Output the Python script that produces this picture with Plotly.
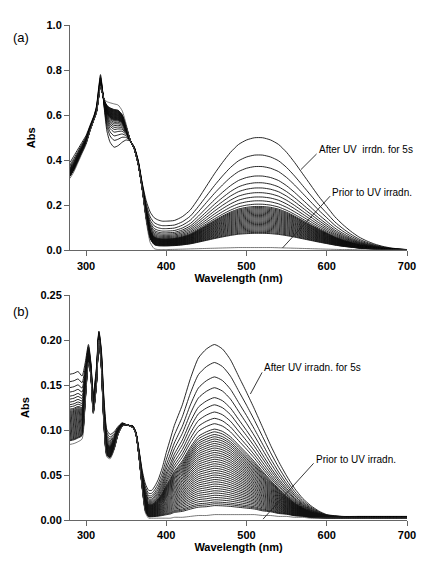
import plotly.graph_objects as go

# ---------------- panel (a) ----------------
wl_a = [280, 285, 290, 295, 300, 305, 310, 313, 316, 318, 320, 323, 326, 330, 335, 340, 345, 350,
        355, 360, 365, 370, 375, 380, 385, 390, 395, 400, 410, 420, 430, 440, 450, 460, 470, 480,
        490, 500, 510, 520, 530, 540, 550, 560, 570, 580, 590, 600, 610, 620, 630, 640, 650, 660,
        670, 680, 690, 700]
final_a = [0.39, 0.42, 0.45, 0.48, 0.51, 0.555, 0.60, 0.64, 0.73, 0.78, 0.73, 0.62, 0.53, 0.48,
           0.458, 0.465, 0.48, 0.49, 0.485, 0.46, 0.40, 0.30, 0.22, 0.17, 0.145, 0.135, 0.13,
           0.13, 0.133, 0.15, 0.18, 0.23, 0.285, 0.34, 0.39, 0.435, 0.47, 0.49, 0.50, 0.50, 0.49,
           0.47, 0.435, 0.39, 0.34, 0.29, 0.24, 0.195, 0.15, 0.115, 0.085, 0.06, 0.042, 0.028,
           0.018, 0.011, 0.007, 0.004]
prior_a = [0.32, 0.35, 0.39, 0.43, 0.47, 0.53, 0.58, 0.61, 0.68, 0.73, 0.70, 0.67, 0.66, 0.655,
           0.65, 0.645, 0.62, 0.56, 0.49, 0.45, 0.38, 0.27, 0.13, 0.035, 0.008, 0.004, 0.004,
           0.004, 0.005, 0.006, 0.007, 0.008, 0.009, 0.010, 0.011, 0.012, 0.013, 0.013, 0.013,
           0.013, 0.013, 0.012, 0.011, 0.010, 0.009, 0.008, 0.007, 0.006, 0.005, 0.004, 0.004,
           0.003, 0.003, 0.003, 0.002, 0.002, 0.002, 0.002]
peak_wl_a = 520
levels_a = [0.50, 0.423, 0.372, 0.33, 0.30, 0.277, 0.256, 0.237, 0.22, 0.205, 0.195, 0.19,
            0.185, 0.18, 0.175, 0.17, 0.165, 0.16, 0.155, 0.15, 0.145, 0.14, 0.135, 0.13, 0.125,
            0.12, 0.115, 0.11, 0.105, 0.10, 0.095, 0.09, 0.085, 0.08, 0.076]

# ---------------- panel (b) ----------------
wl_b = [280, 285, 290, 295, 299, 303, 306, 309, 313, 316, 319, 322, 326, 330, 335, 340, 345, 350,
        355, 358, 362, 366, 370, 374, 378, 382, 386, 390, 395, 400, 405, 410, 420, 430, 440, 450,
        460, 470, 480, 490, 500, 510, 520, 530, 540, 550, 560, 570, 580, 590, 600, 620, 640, 660,
        680, 700]
final_b = [0.162, 0.163, 0.165, 0.16, 0.175, 0.195, 0.175, 0.14, 0.17, 0.21, 0.19, 0.14, 0.10,
           0.095, 0.098, 0.104, 0.108, 0.106, 0.105, 0.105, 0.098, 0.078, 0.055, 0.04, 0.033,
           0.033, 0.038, 0.045, 0.058, 0.075, 0.09, 0.105, 0.128, 0.157, 0.18, 0.19, 0.195,
           0.19, 0.178, 0.16, 0.142, 0.123, 0.103, 0.083, 0.065, 0.049, 0.035, 0.024, 0.016,
           0.01, 0.006, 0.004, 0.004, 0.004, 0.004, 0.004]
prior_b = [0.084, 0.085, 0.087, 0.09, 0.13, 0.175, 0.16, 0.118, 0.15, 0.20, 0.17, 0.11, 0.07,
           0.068, 0.078, 0.095, 0.104, 0.106, 0.104, 0.103, 0.096, 0.07, 0.035, 0.008, 0.002,
           0.002, 0.002, 0.002, 0.002, 0.002, 0.002, 0.003, 0.003, 0.004, 0.005, 0.005, 0.006,
           0.006, 0.006, 0.006, 0.006, 0.006, 0.005, 0.005, 0.004, 0.004, 0.003, 0.003, 0.002,
           0.002, 0.002, 0.002, 0.002, 0.002, 0.002, 0.002]
peak_wl_b = 460
levels_b = [0.195, 0.175, 0.159, 0.147, 0.136, 0.128, 0.12, 0.113, 0.107, 0.101, 0.098, 0.095,
            0.0925, 0.09, 0.0875, 0.085, 0.0825, 0.08, 0.0775, 0.075, 0.0725, 0.07, 0.0675, 0.065,
            0.0625, 0.06, 0.0575, 0.055, 0.0525, 0.05, 0.0475, 0.045, 0.0425, 0.04, 0.0375, 0.035,
            0.0325, 0.03, 0.0275, 0.025, 0.0225, 0.02, 0.018, 0.016]

x_ticks = [300, 400, 500, 600, 700]
ya_ticks = [0.0, 0.2, 0.4, 0.6, 0.8, 1.0]
yb_ticks = [0.00, 0.05, 0.10, 0.15, 0.20, 0.25]

LINE = "#111111"
FONT = "Liberation Sans, Arial, sans-serif"

fig = go.Figure()


def add_family(wl, prior, final, levels, peak_wl, xa, ya):
    i = wl.index(peak_wl)
    for lev in levels:
        f = (lev - prior[i]) / (final[i] - prior[i])
        ys = [p + f * (q - p) for p, q in zip(prior, final)]
        fig.add_trace(go.Scatter(x=wl, y=ys, mode="lines", xaxis=xa, yaxis=ya,
                                 line=dict(color=LINE, width=0.9, shape="spline", smoothing=0.6),
                                 hoverinfo="skip", showlegend=False))
    fig.add_trace(go.Scatter(x=wl, y=prior, mode="lines", xaxis=xa, yaxis=ya,
                             line=dict(color="#555", width=0.8, shape="spline", smoothing=0.6),
                             hoverinfo="skip", showlegend=False))


add_family(wl_a, prior_a, final_a, levels_a, peak_wl_a, "x", "y")
add_family(wl_b, prior_b, final_b, levels_b, peak_wl_b, "x2", "y2")

axis_common = dict(showline=True, linecolor="#666", linewidth=1, ticks="outside", ticklen=5,
                   tickcolor="#666", showgrid=False, zeroline=False,
                   tickfont=dict(family=FONT, size=11, color="black", weight="bold"))
title_font = dict(family=FONT, size=11, color="black", weight="bold")

# the page body adds an 8px offset, so the figure is 8px smaller on each side
fig.update_layout(
    width=419, height=555, paper_bgcolor="white", plot_bgcolor="white",
    margin=dict(l=62, r=11, t=12, b=37),
    xaxis=dict(domain=[0, 1], anchor="y", range=[280, 700], tickvals=x_ticks,
               title=dict(text="Wavelength (nm)", font=title_font, standoff=3), **axis_common),
    yaxis=dict(domain=[0.5445, 1], anchor="x", range=[0, 1.0], tickvals=ya_ticks,
               tickformat=".1f",
               title=dict(text="Abs", font=title_font, standoff=8), **axis_common),
    xaxis2=dict(domain=[0, 1], anchor="y2", range=[280, 700], tickvals=x_ticks,
                title=dict(text="Wavelength (nm)", font=title_font, standoff=3), **axis_common),
    yaxis2=dict(domain=[0, 0.4545], anchor="x2", range=[0, 0.25], tickvals=yb_ticks,
                tickformat=".2f",
                title=dict(text="Abs", font=title_font, standoff=8), **axis_common),
)

ann_font = dict(family=FONT, size=10, color="black")
annotations = [
    dict(text="After UV  irrdn. for 5s", x=588.5, y=0.446, xref="x", yref="y"),
    dict(text="Prior to UV irradn.", x=605.5, y=0.259, xref="x", yref="y"),
    dict(text="After UV irradn. for 5s", x=520.6, y=0.1696, xref="x2", yref="y2"),
    dict(text="Prior to UV irradn.", x=584.8, y=0.0674, xref="x2", yref="y2"),
]
for a in annotations:
    fig.add_annotation(showarrow=False, xanchor="left", yanchor="middle", font=ann_font,
                       borderpad=0, **a)

fig.add_annotation(text="(a)", x=-0.146, y=0.974, xref="paper", yref="paper", showarrow=False,
                   xanchor="center", yanchor="middle", font=dict(family=FONT, size=13, color="black"))
fig.add_annotation(text="(b)", x=-0.146, y=0.421, xref="paper", yref="paper", showarrow=False,
                   xanchor="center", yanchor="middle", font=dict(family=FONT, size=13, color="black"))

pointers = [
    dict(x0=587.3, y0=0.428, x1=567.9, y1=0.359, xref="x", yref="y"),
    dict(x0=604.2, y0=0.241, x1=544.8, y1=0.011, xref="x", yref="y"),
    dict(x0=519.4, y0=0.164, x1=504.8, y1=0.140, xref="x2", yref="y2"),
    dict(x0=583.6, y0=0.063, x1=520.6, y1=0.001, xref="x2", yref="y2"),
]
for p in pointers:
    fig.add_shape(type="line", line=dict(color="#222", width=0.9), **p)

fig.write_html("out.html")
